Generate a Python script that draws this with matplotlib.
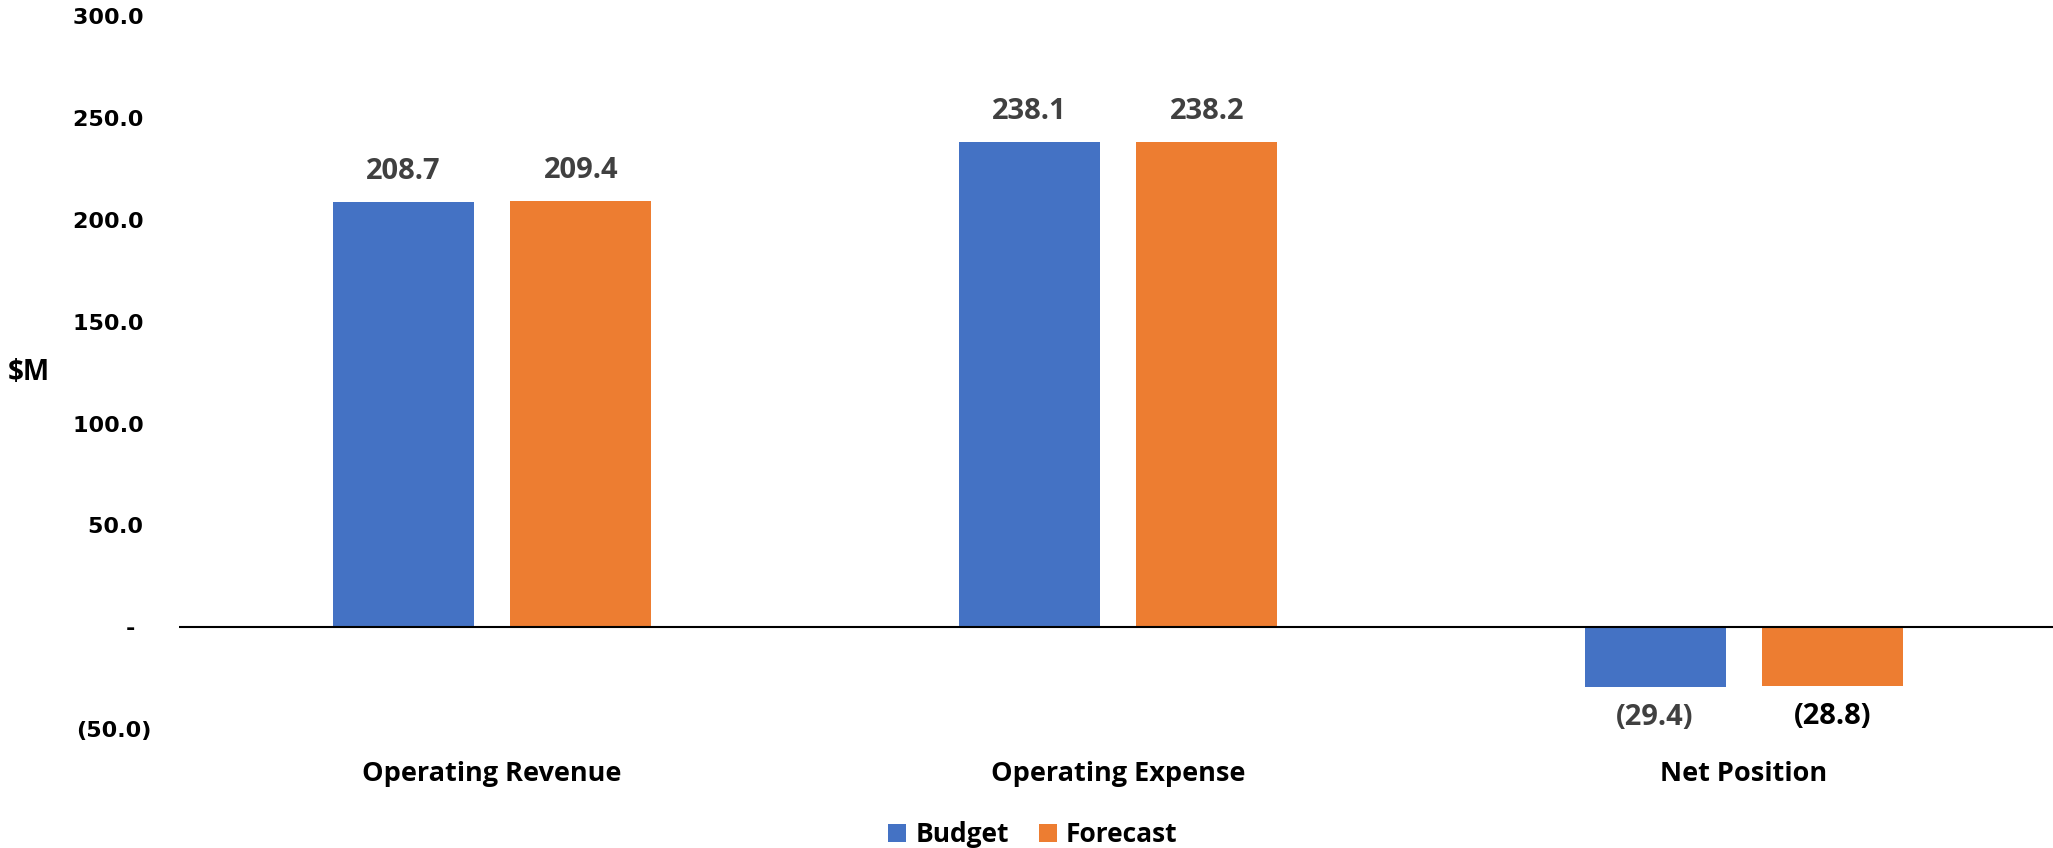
import numpy as np
import matplotlib.pyplot as plt

# Chart data
categories = ['Operating Revenue', 'Operating Expense', 'Net Position']
budget = [208.7, 238.1, -29.4]
forecast = [209.4, 238.2, -28.8]
y_ticks = [-50, 0, 50, 100, 150, 200, 250, 300]
y_tick_labels = ['(50.0)', '-  ', '50.0 ', '100.0 ', '150.0 ', '200.0 ', '250.0 ', '300.0 ']

blue = '#4472C4'
orange = '#ED7D31'
label_font = 'Open Sans'

W, H = 2053, 848
fig = plt.figure(figsize=(W / 100, H / 100), dpi=100)
ax = fig.add_axes([179 / W, 1 - 728.75 / H, (W - 179) / W, (728.75 - 16.5) / H])

x = np.arange(len(categories))
bw = 0.225
off = 0.142
bars_b = ax.bar(x - off, budget, bw, color=blue, label='Budget')
bars_f = ax.bar(x + off, forecast, bw, color=orange, label='Forecast')

ax.axhline(0, color='black', lw=1.5, zorder=3)

ax.set_xlim(-0.5, (W - 179) / 626 - 0.5)
ax.set_ylim(-50, 300)

# value labels, accounting style for negatives
def fmt(v):
    return f'({abs(v):.1f})' if v < 0 else f'{v:.1f}'

for bars, vals in [(bars_b, budget), (bars_f, forecast)]:
    for b, v in zip(bars, vals):
        xc = b.get_x() + b.get_width() / 2
        dy = 22 if v >= 0 else -22
        col = '#000000' if (v < 0 and bars is bars_f) else '#404040'
        ax.annotate(fmt(v), (xc, v), xytext=(0, dy), textcoords='offset points',
                    ha='center', va='center', fontsize=21, fontweight='bold',
                    family=label_font, color=col)

ax.set_yticks(y_ticks)
ax.set_yticklabels(y_tick_labels, fontsize=16, fontweight='bold', family='DejaVu Sans')
ax.tick_params(axis='y', length=0, pad=20)

ax.set_xticks(x)
ax.set_xticklabels(categories, fontsize=19.5, fontweight='bold', family=label_font)
ax.tick_params(axis='x', length=0, pad=23)

for s in ax.spines.values():
    s.set_visible(False)

fig.text(8 / W, 1 - 373 / H, '$M', ha='left', va='center', fontsize=20,
         fontweight='bold', family=label_font)

leg = fig.legend(handles=[bars_b, bars_f], labels=['Budget', 'Forecast'],
                 loc='center', bbox_to_anchor=(1033 / W, 1 - 835 / H), ncol=2,
                 frameon=False, prop={'family': label_font, 'weight': 'bold', 'size': 19},
                 handlelength=0.68, handleheight=0.68, handletextpad=0.34,
                 columnspacing=1.14, borderpad=0)

fig.savefig('out.png', dpi=100)
